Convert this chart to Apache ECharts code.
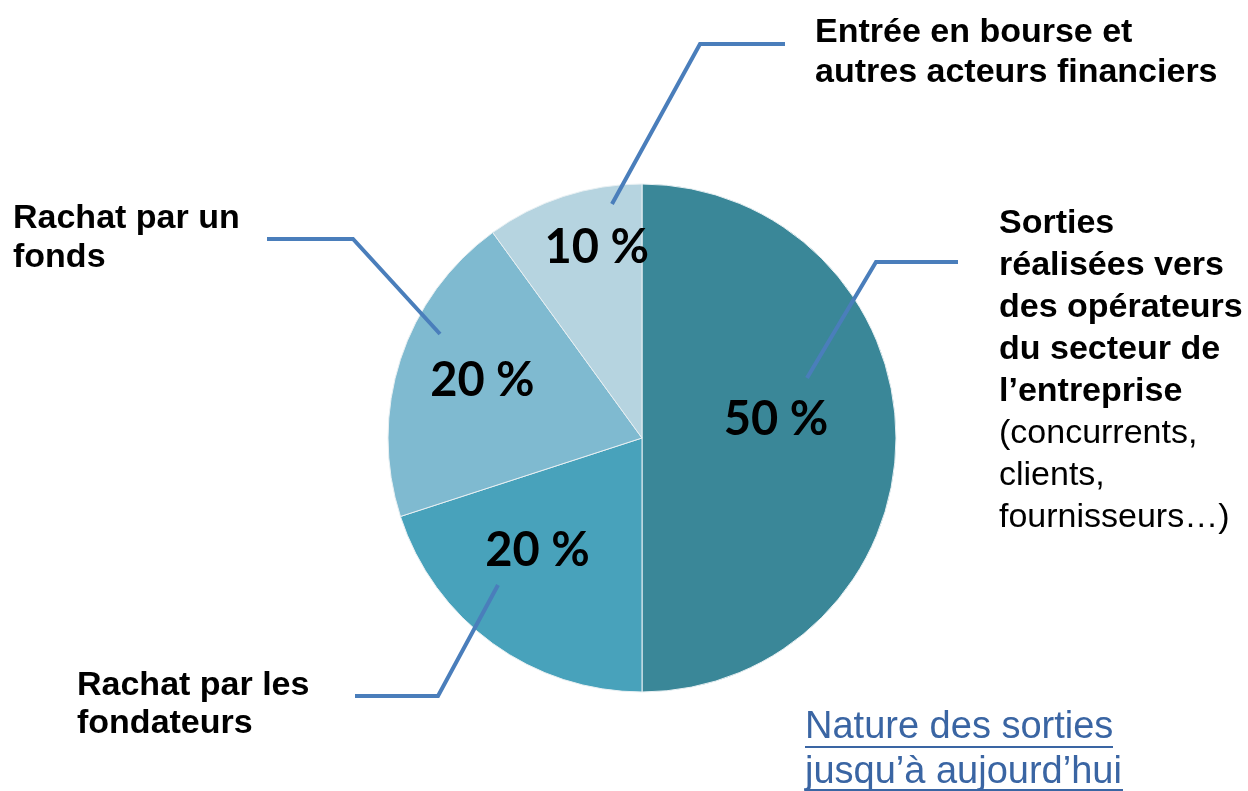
<!DOCTYPE html>
<html>
<head>
<meta charset="utf-8">
<script src="https://cdn.jsdelivr.net/npm/echarts@6/dist/echarts.min.js"></script>
<style>
  html, body { margin: 0; padding: 0; background: #fff; }
  #main { width: 1248px; height: 791px; }
</style>
</head>
<body>
<div id="main"></div>
<script>
// slices, clockwise from 12 o'clock
const categories = [
  'Sorties\nréalisées vers\ndes opérateurs\ndu secteur de\nl’entreprise',
  'Rachat par les\nfondateurs',
  'Rachat par un\nfonds',
  'Entrée en bourse et\nautres acteurs financiers'
];
const categoryNotes = ['(concurrents,\nclients,\nfournisseurs…)', '', '', ''];
const values = [50, 20, 20, 10];
const chartTitle = 'Nature des sorties\njusqu’à aujourd’hui';

const colors = ['#3a8798', '#48a2bb', '#7fbad0', '#b6d4e0'];
// nudges of the % labels from the default "inside" spot
const labelShift = [[4, -18], [-28, 8], [-36, -17], [-5, -67]];

const chartDom = document.getElementById('main');
const myChart = echarts.init(chartDom);

const lineColor = '#4a7ebb';
const boldFont = 'bold 34px "Liberation Sans", Arial, sans-serif';
const plainFont = '34px "Liberation Sans", Arial, sans-serif';

function leader(points) {
  return {
    type: 'polyline',
    z: 100,
    shape: { points: points },
    style: { stroke: lineColor, lineWidth: 4, fill: null }
  };
}

function label(x, y, text, font, lh, fill) {
  return {
    type: 'text',
    z: 100,
    x: x,
    y: y,
    style: {
      text: text,
      font: font,
      lineHeight: lh,
      fill: fill || '#000',
      verticalAlign: 'top'
    }
  };
}

const option = {
  backgroundColor: '#fff',
  animation: false,
  series: [
    {
      type: 'pie',
      center: [642, 438],
      radius: 254,
      startAngle: 90,
      clockwise: true,
      silent: true,
      itemStyle: {
        borderColor: '#e8f0f3',
        borderWidth: 1
      },
      label: {
        show: true,
        position: 'inside',
        formatter: p => p.value + ' %',
        fontFamily: 'Lato, "Open Sans", sans-serif',
        fontWeight: 'bold',
        fontSize: 47,
        color: '#000'
      },
      labelLayout: function (params) {
        const s = labelShift[params.dataIndex];
        return { dx: s[0], dy: s[1] };
      },
      labelLine: { show: false },
      data: values.map((v, i) => ({
        name: categories[i],
        value: v,
        itemStyle: { color: colors[i] }
      }))
    }
  ],
  graphic: [
    leader([[612, 204], [700, 44], [785, 44]]),
    leader([[267, 239], [353, 239], [440, 334]]),
    leader([[355, 696], [438, 696], [498, 585]]),
    leader([[807, 378], [876, 262], [958, 262]]),

    label(815, 13, categories[3], boldFont, 40),
    label(13, 199, categories[2], boldFont, 39),
    label(77, 667, categories[1], boldFont, 38),
    label(999, 203, categories[0], boldFont, 42),
    label(999, 203 + 5 * 42, categoryNotes[0], plainFont, 42),

    label(805, 705, chartTitle, '38px "Liberation Sans", Arial, sans-serif', 45, '#3a65a3'),
    {
      type: 'line',
      z: 100,
      shape: { x1: 805, y1: 747, x2: 1113, y2: 747 },
      style: { stroke: '#3a65a3', lineWidth: 2 }
    },
    {
      type: 'line',
      z: 100,
      shape: { x1: 805, y1: 790, x2: 1123, y2: 790 },
      style: { stroke: '#3a65a3', lineWidth: 2 }
    }
  ]
};

option && myChart.setOption(option);
</script>
</body>
</html>
